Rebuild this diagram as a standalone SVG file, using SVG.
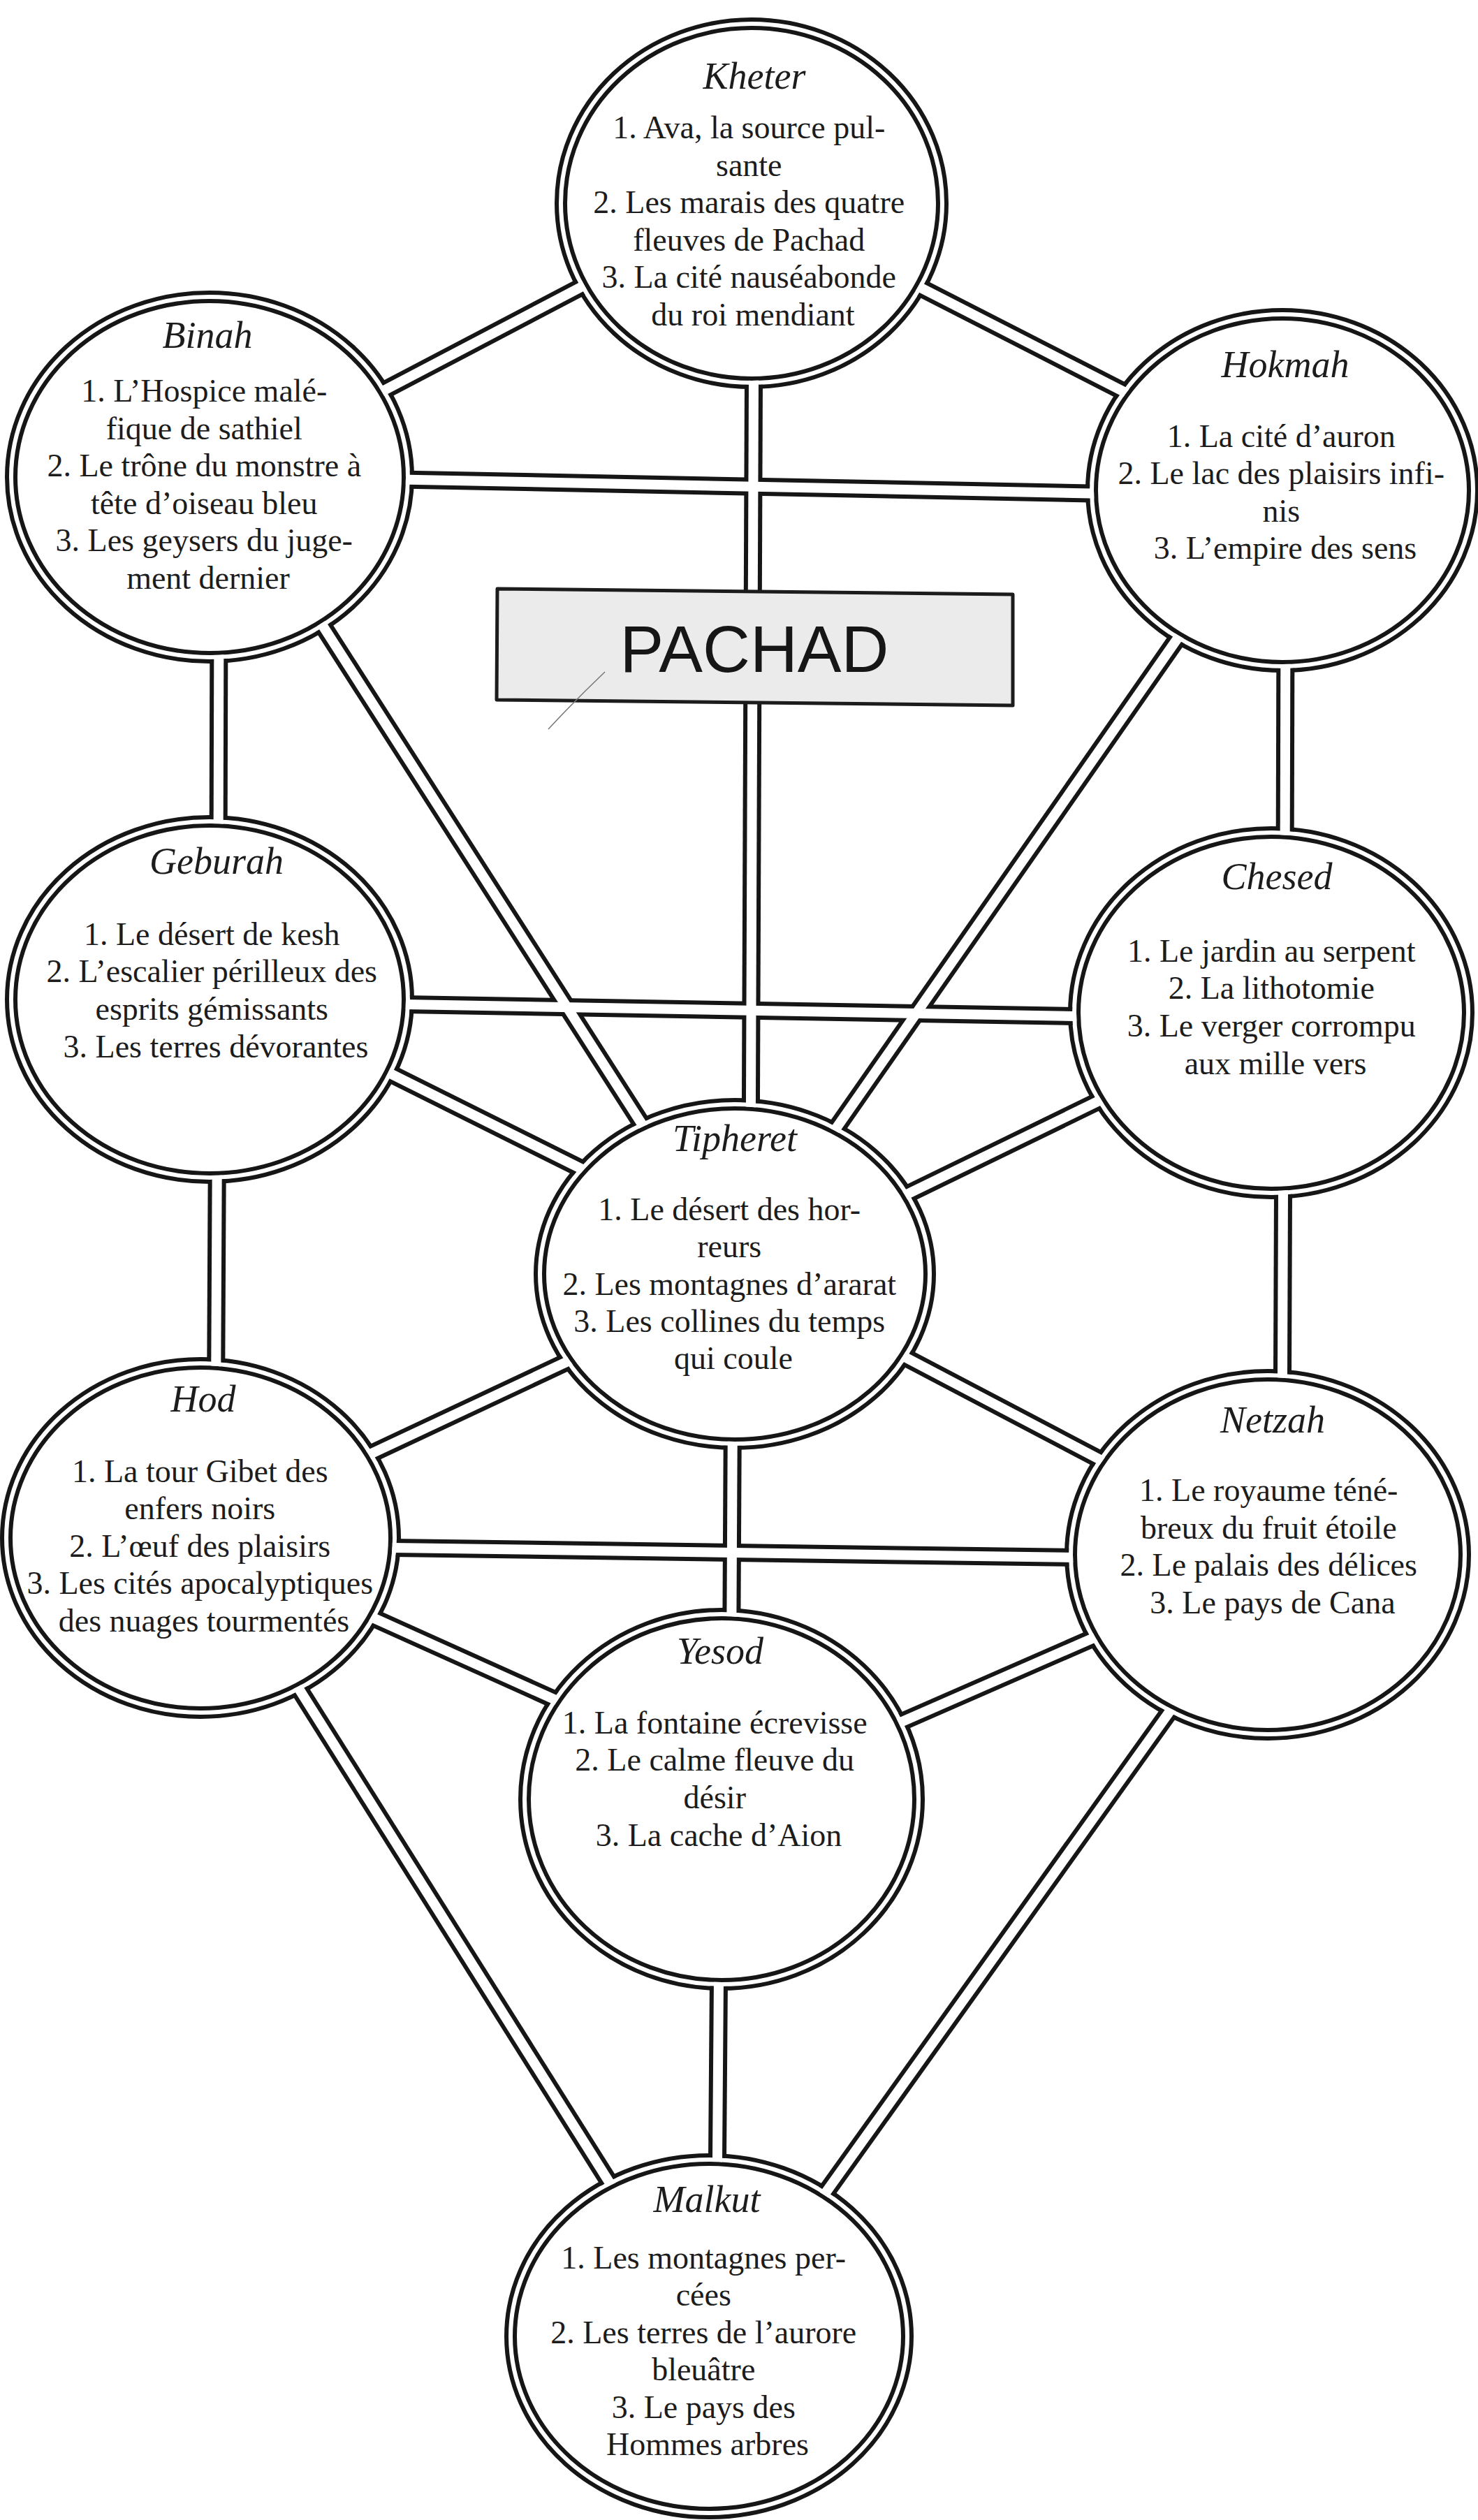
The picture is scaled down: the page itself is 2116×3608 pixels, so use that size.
<svg xmlns="http://www.w3.org/2000/svg" xmlns:xlink="http://www.w3.org/1999/xlink" width="2116" height="3608" viewBox="0 0 2116 3608">
  <style>
    .ttl { font-family: "Liberation Serif", "DejaVu Serif", serif; font-style: italic; font-size: 54px; fill: #1c1c1c; text-anchor: middle; }
    .txt { font-family: "Liberation Serif", "DejaVu Serif", serif; font-size: 46px; fill: #1c1c1c; text-anchor: middle; }
    .ring-o { fill: #fff; stroke: #161616; stroke-width: 6; }
    .ring-i { fill: #fff; stroke: #161616; stroke-width: 6; }
    .title-box { fill: #ebebeb; stroke: #1c1c1c; stroke-width: 5; stroke-linejoin: round; }
    .title-txt { font-family: "Liberation Sans", "DejaVu Sans", sans-serif; font-size: 94px; fill: #161616; text-anchor: middle; }
  </style>
  <defs>
    <!-- centre lines of the 22 paths -->
    <g id="paths" fill="none">
      <line x1="1076" y1="283" x2="300" y2="690"/>
      <line x1="1076" y1="288" x2="1838" y2="678"/>
      <line x1="1080" y1="291" x2="1074" y2="1822"/>
      <line x1="300" y1="681" x2="1838" y2="712"/>
      <line x1="314" y1="683" x2="312" y2="1431"/>
      <line x1="327" y1="685" x2="1057" y2="1825"/>
      <line x1="1835" y1="700" x2="1051" y2="1825"/>
      <line x1="1841" y1="702" x2="1839" y2="1450"/>
      <line x1="300" y1="1433" x2="1820" y2="1460"/>
      <line x1="300" y1="1408" x2="1052" y2="1783"/>
      <line x1="1820" y1="1456" x2="1052" y2="1830"/>
      <line x1="312" y1="1431" x2="308" y2="2202"/>
      <line x1="1838" y1="1450" x2="1835" y2="2226"/>
      <line x1="1052" y1="1837" x2="287" y2="2196"/>
      <line x1="1052" y1="1815" x2="1815" y2="2216"/>
      <line x1="1050" y1="1824" x2="1046" y2="2576"/>
      <line x1="287" y1="2212" x2="1815" y2="2234"/>
      <line x1="287" y1="2205" x2="1033" y2="2541"/>
      <line x1="1815" y1="2236" x2="1033" y2="2578"/>
      <line x1="294" y1="2205" x2="1011" y2="3345"/>
      <line x1="1835" y1="2226" x2="1035" y2="3345"/>
      <line x1="1031" y1="2576" x2="1025" y2="3345"/>
    </g>
    <!-- hides path borders inside each ring's outer line -->
    <mask id="m-outer" maskUnits="userSpaceOnUse" x="0" y="0" width="2116" height="3608">
      <rect width="2116" height="3608" fill="#fff"/>
      <g fill="#000">
        <ellipse cx="1076" cy="291" rx="276" ry="260"/>
        <ellipse cx="300" cy="683" rx="287" ry="261"/>
        <ellipse cx="1836" cy="702" rx="276" ry="255"/>
        <ellipse cx="300" cy="1431" rx="287" ry="258"/>
        <ellipse cx="1820" cy="1450" rx="285" ry="261"/>
        <ellipse cx="1052" cy="1824" rx="282" ry="246"/>
        <ellipse cx="287" cy="2202" rx="281" ry="253"/>
        <ellipse cx="1815" cy="2226" rx="285" ry="260"/>
        <ellipse cx="1033" cy="2576" rx="285" ry="268"/>
        <ellipse cx="1015" cy="3345" rx="287" ry="256"/>
      </g>
    </mask>
    <!-- lets path interiors open into each ring's gap -->
    <mask id="m-inner" maskUnits="userSpaceOnUse" x="0" y="0" width="2116" height="3608">
      <rect width="2116" height="3608" fill="#fff"/>
      <g fill="#000">
        <ellipse cx="1076" cy="291" rx="270" ry="254"/>
        <ellipse cx="300" cy="683" rx="281" ry="255"/>
        <ellipse cx="1836" cy="702" rx="270" ry="249"/>
        <ellipse cx="300" cy="1431" rx="281" ry="252"/>
        <ellipse cx="1820" cy="1450" rx="279" ry="255"/>
        <ellipse cx="1052" cy="1824" rx="276" ry="240"/>
        <ellipse cx="287" cy="2202" rx="275" ry="247"/>
        <ellipse cx="1815" cy="2226" rx="279" ry="254"/>
        <ellipse cx="1033" cy="2576" rx="279" ry="262"/>
        <ellipse cx="1015" cy="3345" rx="281" ry="250"/>
      </g>
    </mask>
  </defs>

  <rect width="2116" height="3608" fill="#fff"/>

  <g id="kheter">
    <ellipse class="ring-o" cx="1076" cy="291" rx="279" ry="263"/>
    <ellipse class="ring-i" cx="1076" cy="291" rx="267" ry="251"/>
    <text class="ttl" x="1080" y="127">Kheter</text>
    <text class="txt">
      <tspan x="1078" y="198">1. Ava, la source pul-</tspan>
      <tspan x="1078" y="252">sante</tspan>
      <tspan x="1078" y="305">2. Les marais des quatre</tspan>
      <tspan x="1078" y="359">fleuves de Pachad</tspan>
      <tspan x="1078" y="412">3. La cité nauséabonde</tspan>
      <tspan x="1078" y="466">du roi mendiant</tspan>
    </text>
  </g>

  <g id="binah">
    <ellipse class="ring-o" cx="300" cy="683" rx="290" ry="264"/>
    <ellipse class="ring-i" cx="300" cy="683" rx="278" ry="252"/>
    <text class="ttl" x="297" y="498">Binah</text>
    <text class="txt">
      <tspan x="298" y="575">1. L’Hospice malé-</tspan>
      <tspan x="298" y="629">fique de sathiel</tspan>
      <tspan x="298" y="682">2. Le trône du monstre à</tspan>
      <tspan x="298" y="736">tête d’oiseau bleu</tspan>
      <tspan x="298" y="789">3. Les geysers du juge-</tspan>
      <tspan x="298" y="843">ment dernier</tspan>
    </text>
  </g>

  <g id="hokmah">
    <ellipse class="ring-o" cx="1836" cy="702" rx="279" ry="258"/>
    <ellipse class="ring-i" cx="1836" cy="702" rx="267" ry="246"/>
    <text class="ttl" x="1840" y="540">Hokmah</text>
    <text class="txt">
      <tspan x="1840" y="640">1. La cité d’auron</tspan>
      <tspan x="1840" y="693">2. Le lac des plaisirs infi-</tspan>
      <tspan x="1840" y="747">nis</tspan>
      <tspan x="1840" y="800">3. L’empire des sens</tspan>
    </text>
  </g>

  <g id="geburah">
    <ellipse class="ring-o" cx="300" cy="1431" rx="290" ry="261"/>
    <ellipse class="ring-i" cx="300" cy="1431" rx="278" ry="249"/>
    <text class="ttl" x="310" y="1251">Geburah</text>
    <text class="txt">
      <tspan x="309" y="1353">1. Le désert de kesh</tspan>
      <tspan x="309" y="1406">2. L’escalier périlleux des</tspan>
      <tspan x="309" y="1460">esprits gémissants</tspan>
      <tspan x="309" y="1514">3. Les terres dévorantes</tspan>
    </text>
  </g>

  <g id="chesed">
    <ellipse class="ring-o" cx="1820" cy="1450" rx="288" ry="264"/>
    <ellipse class="ring-i" cx="1820" cy="1450" rx="276" ry="252"/>
    <text class="ttl" x="1828" y="1273">Chesed</text>
    <text class="txt">
      <tspan x="1826" y="1377">1. Le jardin au serpent</tspan>
      <tspan x="1826" y="1430">2. La lithotomie</tspan>
      <tspan x="1826" y="1484">3. Le verger corrompu</tspan>
      <tspan x="1826" y="1538">aux mille vers</tspan>
    </text>
  </g>

  <g id="tipheret">
    <ellipse class="ring-o" cx="1052" cy="1824" rx="285" ry="249"/>
    <ellipse class="ring-i" cx="1052" cy="1824" rx="273" ry="237"/>
    <text class="ttl" x="1052" y="1648">Tipheret</text>
    <text class="txt">
      <tspan x="1050" y="1747">1. Le désert des hor-</tspan>
      <tspan x="1050" y="1800">reurs</tspan>
      <tspan x="1050" y="1854">2. Les montagnes d’ararat</tspan>
      <tspan x="1050" y="1907">3. Les collines du temps</tspan>
      <tspan x="1050" y="1960">qui coule</tspan>
    </text>
  </g>

  <g id="hod">
    <ellipse class="ring-o" cx="287" cy="2202" rx="284" ry="256"/>
    <ellipse class="ring-i" cx="287" cy="2202" rx="272" ry="244"/>
    <text class="ttl" x="291" y="2021">Hod</text>
    <text class="txt">
      <tspan x="292" y="2122">1. La tour Gibet des</tspan>
      <tspan x="292" y="2175">enfers noirs</tspan>
      <tspan x="292" y="2229">2. L’œuf des plaisirs</tspan>
      <tspan x="292" y="2282">3. Les cités apocalyptiques</tspan>
      <tspan x="292" y="2336">des nuages tourmentés</tspan>
    </text>
  </g>

  <g id="netzah">
    <ellipse class="ring-o" cx="1815" cy="2226" rx="288" ry="263"/>
    <ellipse class="ring-i" cx="1815" cy="2226" rx="276" ry="251"/>
    <text class="ttl" x="1822" y="2051">Netzah</text>
    <text class="txt">
      <tspan x="1822" y="2149">1. Le royaume téné-</tspan>
      <tspan x="1822" y="2203">breux du fruit étoile</tspan>
      <tspan x="1822" y="2256">2. Le palais des délices</tspan>
      <tspan x="1822" y="2310">3. Le pays de Cana</tspan>
    </text>
  </g>

  <g id="yesod">
    <ellipse class="ring-o" cx="1033" cy="2576" rx="288" ry="271"/>
    <ellipse class="ring-i" cx="1033" cy="2576" rx="276" ry="259"/>
    <text class="ttl" x="1031" y="2382">Yesod</text>
    <text class="txt">
      <tspan x="1029" y="2482">1. La fontaine écrevisse</tspan>
      <tspan x="1029" y="2535">2. Le calme fleuve du</tspan>
      <tspan x="1029" y="2589">désir</tspan>
      <tspan x="1029" y="2643">3. La cache d’Aion</tspan>
    </text>
  </g>

  <g id="malkut">
    <ellipse class="ring-o" cx="1015" cy="3345" rx="290" ry="259"/>
    <ellipse class="ring-i" cx="1015" cy="3345" rx="278" ry="247"/>
    <text class="ttl" x="1012" y="3167">Malkut</text>
    <text class="txt">
      <tspan x="1013" y="3248">1. Les montagnes per-</tspan>
      <tspan x="1013" y="3301">cées</tspan>
      <tspan x="1013" y="3355">2. Les terres de l’aurore</tspan>
      <tspan x="1013" y="3408">bleuâtre</tspan>
      <tspan x="1013" y="3462">3. Le pays des</tspan>
      <tspan x="1013" y="3515">Hommes arbres</tspan>
    </text>
  </g>

  <!-- double-lined paths: dark borders first, then the white channel -->
  <g id="connectors">
    <use xlink:href="#paths" href="#paths" mask="url(#m-outer)" stroke="#161616" stroke-width="26"/>
    <use xlink:href="#paths" href="#paths" mask="url(#m-inner)" stroke="#fff" stroke-width="14"/>
  </g>

  <g id="pachad">
    <polygon class="title-box" points="712,843 1450,851 1450,1010 711,1002"/>
    <text class="title-txt" x="1080" y="962">PACHAD</text>
    <path d="M785,1044 Q822,1004 866,962" fill="none" stroke="#777" stroke-width="1.5"/>
  </g>
</svg>
